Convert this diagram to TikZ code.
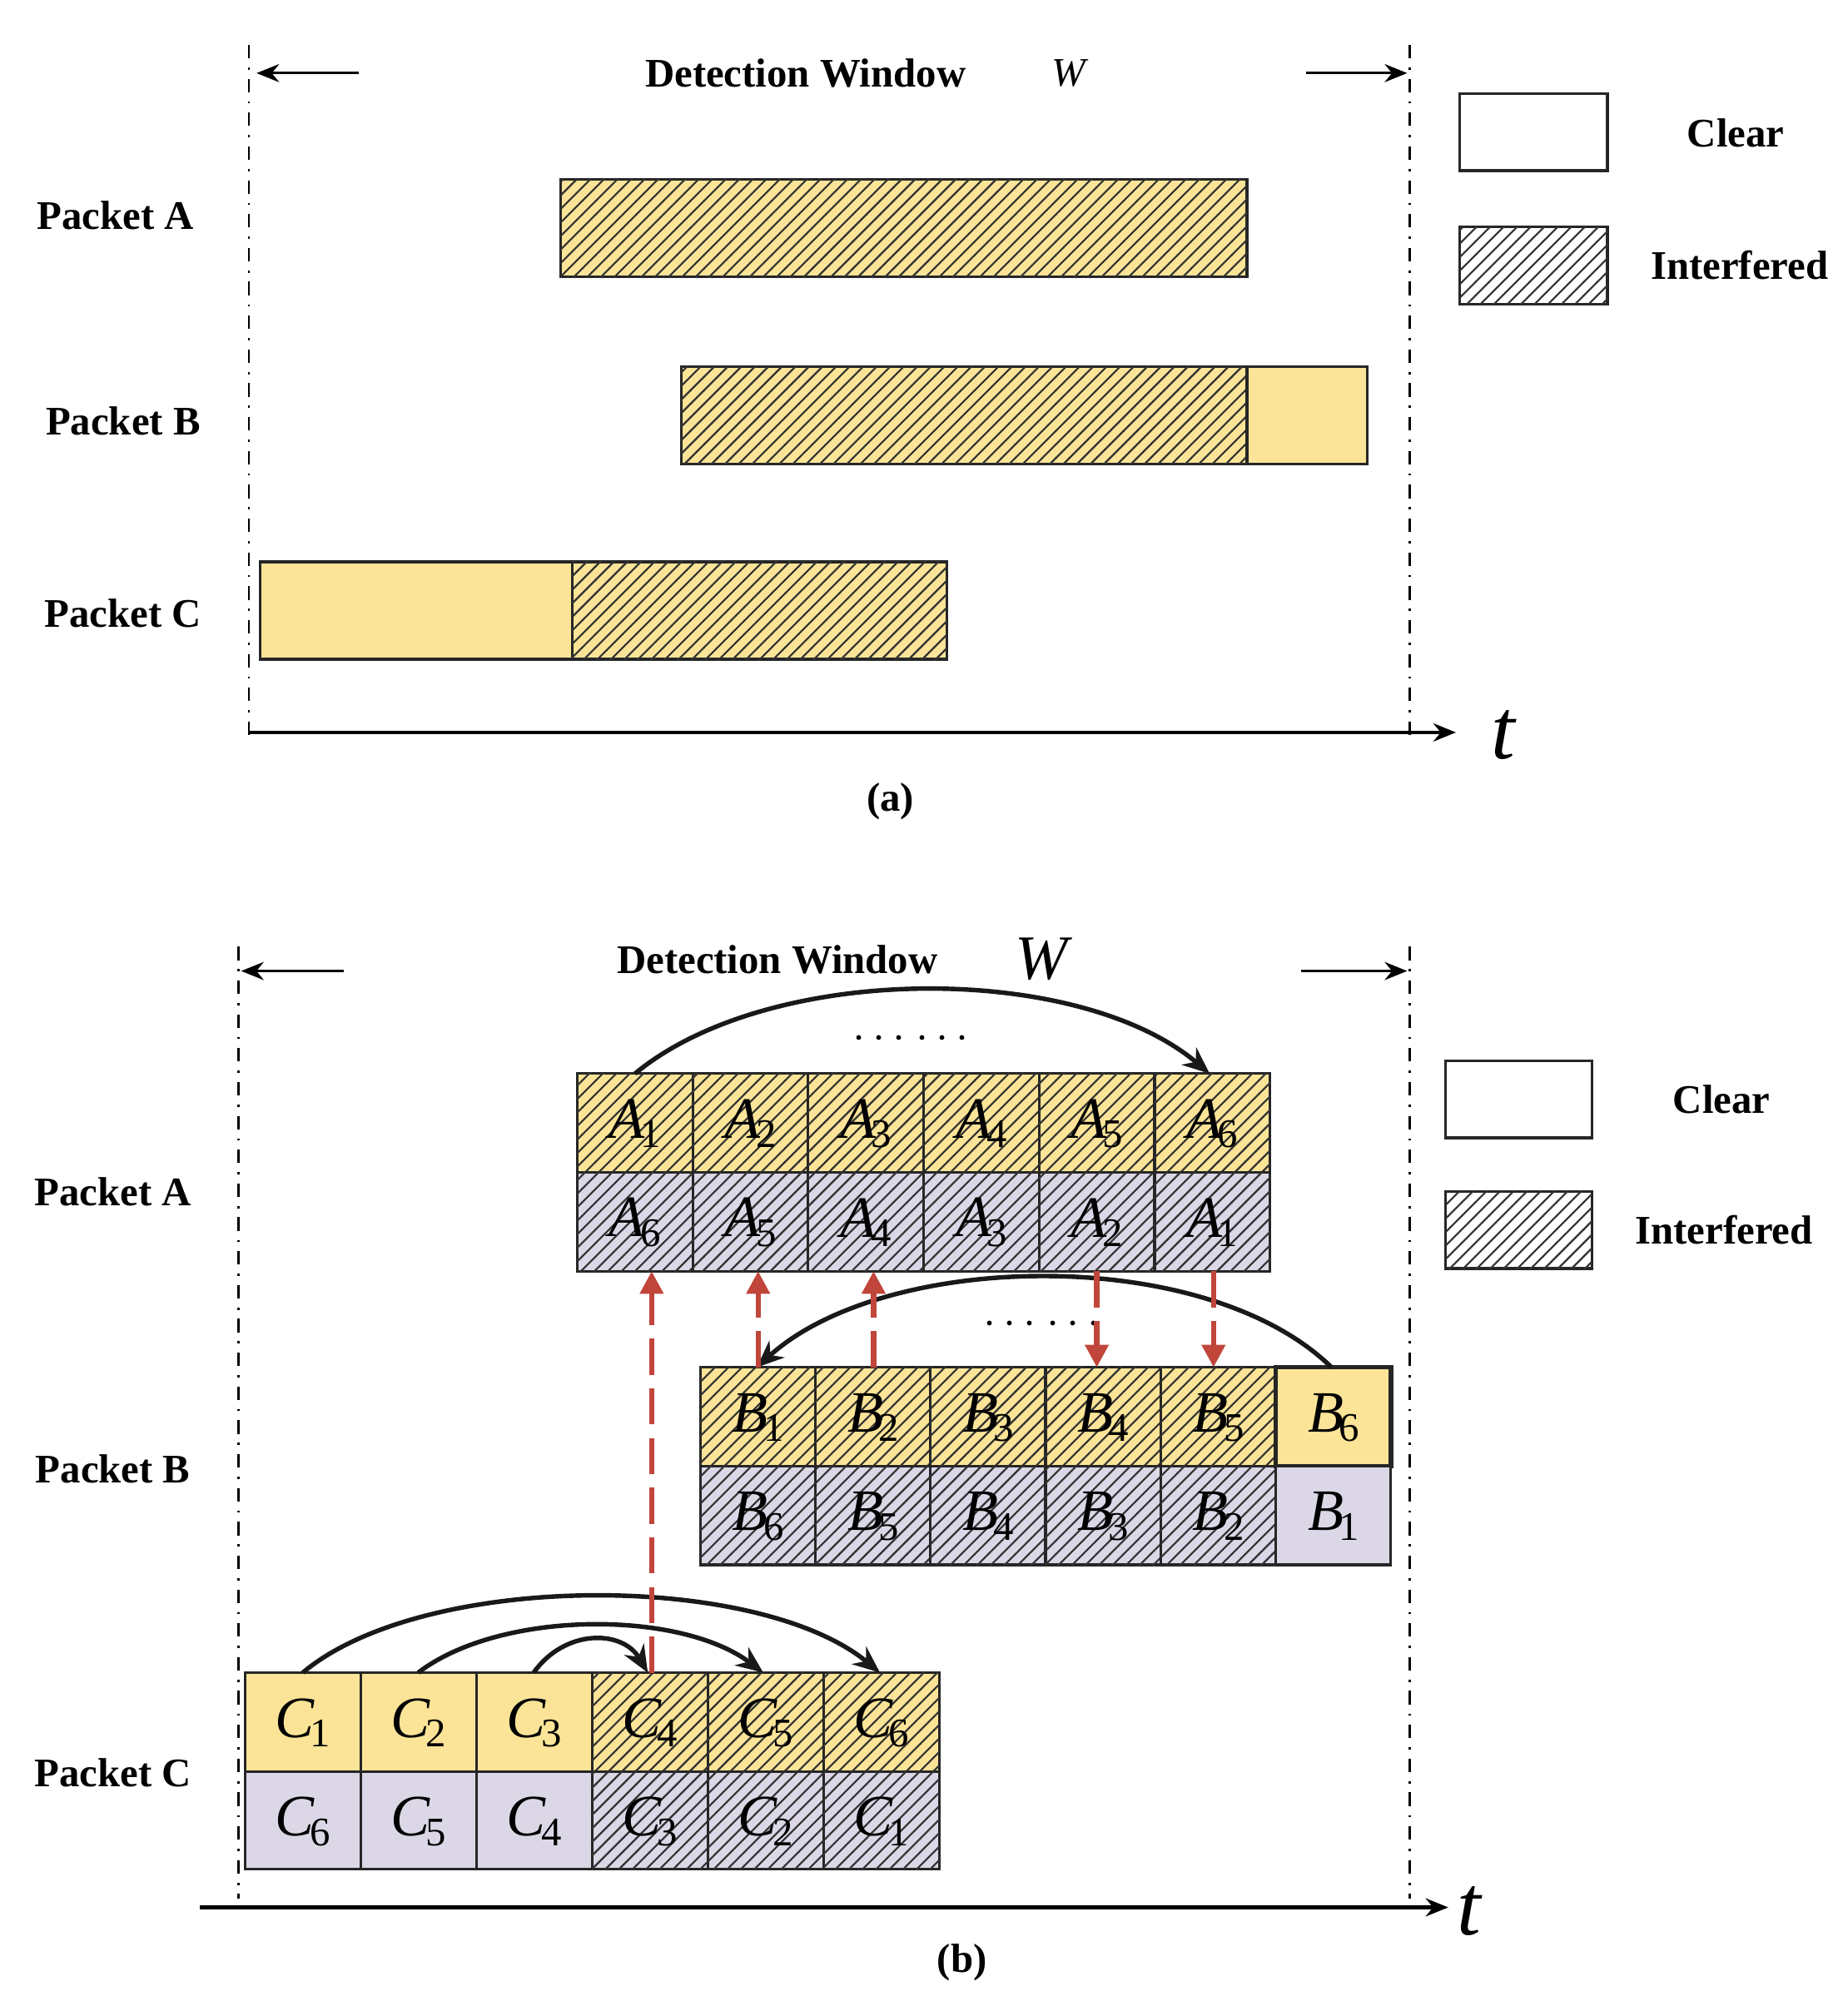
\documentclass[tikz,border=0pt]{standalone}
\usepackage{fontspec}
\setmainfont{Liberation Serif}
\usetikzlibrary{patterns,arrows.meta}
\definecolor{yel}{HTML}{FBE497}
\definecolor{lav}{HTML}{DCD7E6}
\definecolor{red}{HTML}{C0453A}
\newcommand{\cl}[2]{{\itshape #1}\kern-0.08em\raisebox{-0.35ex}{\fontsize{9}{10}\selectfont #2}}
\begin{document}
\begin{tikzpicture}[x=0.01cm,y=-0.01cm,
  lab/.style={font=\fontsize{9}{11}\bfseries\selectfont},
  cell/.style={draw=black!85,line width=0.6pt,font=\fontsize{13}{15}\selectfont},
  hat/.style={postaction={pattern=north east lines,pattern color=black!80}},
  win/.style={line width=0.5pt,dash dot},
  ar/.style={-{Stealth[length=5pt,width=4pt]},line width=0.6pt},
  cur/.style={-{Stealth[length=6pt,width=5pt]},line width=1pt,black!90},
  rd/.style={-{Triangle[length=5pt,width=5pt]},line width=1.2pt,red,dash pattern=on 8pt off 3pt}]
\useasboundingbox (0,0) rectangle (1440,1560);
% ---------- (a)
\draw[win] (194,35) -- (194,575);
\draw[win] (1099,35) -- (1099,575);
\coordinate (la1) at (280,57); \coordinate (la2) at (200,57);
\coordinate (ra1) at (1018,57); \coordinate (ra2) at (1097,57);
\draw[ar] (la1) -- (la2); \draw[ar] (ra1) -- (ra2);
\node[lab] (dwa) at (628,57) {Detection Window};
\node[font=\fontsize{9}{11}\itshape\selectfont] (wa) at (833,57) {W};
\node[lab] (pa) at (90,168) {Packet A};
\node[lab] (pb) at (96,328) {Packet B};
\node[lab] (pc) at (96,478) {Packet C};
\draw[cell,fill=yel,hat] (437,140) rectangle (972,216);
\draw[cell,fill=yel,hat] (531,286) rectangle (972,362);
\draw[cell,fill=yel] (972,286) rectangle (1066,362);
\draw[cell,fill=yel] (203,438) rectangle (446,514);
\draw[cell,fill=yel,hat] (446,438) rectangle (738,514);
\coordinate (xa0) at (194,571); \coordinate (xa1) at (1135,571);
\draw[ar,line width=0.8pt] (xa0) -- (xa1);
\node[font=\fontsize{19}{22}\itshape\selectfont] (ta) at (1172,573) {t};
\node[lab] (capa) at (694,625) {(a)};
\draw[cell,fill=white] (1138,73) rectangle (1253,133);
\node[lab] (ca) at (1353,104) {Clear};
\draw[cell,fill=white,hat] (1138,177) rectangle (1253,237);
\node[lab] (ia) at (1356,207) {Interfered};
% ---------- (b)
\draw[win] (186,738) -- (186,1480);
\draw[win] (1099,738) -- (1099,1480);
\coordinate (lb1) at (268,757); \coordinate (lb2) at (188,757);
\coordinate (rb1) at (1014,757); \coordinate (rb2) at (1097,757);
\draw[ar] (lb1) -- (lb2); \draw[ar] (rb1) -- (rb2);
\node[lab] (dwb) at (606,748) {Detection Window};
\node[font=\fontsize{14}{16}\itshape\selectfont] (wb) at (812,748) {W};
\node[lab] (pab) at (88,929) {Packet A};
\node[lab] (pbb) at (88,1145) {Packet B};
\node[lab] (pcb) at (88,1382) {Packet C};
\draw[cell,fill=white] (1127,827) rectangle (1241,887);
\node[lab] (cb) at (1342,857) {Clear};
\draw[cell,fill=white,hat] (1127,929) rectangle (1241,989);
\node[lab] (ib) at (1344,959) {Interfered};
% A cells
\foreach \i in {1,...,6}{
  \pgfmathsetmacro\xl{450+(\i-1)*90}
  \pgfmathtruncatemacro\j{7-\i}
  \draw[cell,fill=yel,hat] (\xl,837) rectangle ++(90,77);
  \node[font=\fontsize{13}{15}\selectfont] (A\i) at (\xl+45,876) {\cl{A}{\i}};
  \draw[cell,fill=lav,hat] (\xl,914) rectangle ++(90,77);
  \node[font=\fontsize{13}{15}\selectfont] (AA\i) at (\xl+45,953) {\cl{A}{\j}};
}
% B cells
\foreach \i in {1,...,6}{
  \pgfmathsetmacro\xl{546+(\i-1)*89.7}
  \pgfmathtruncatemacro\j{7-\i}
  \ifnum\i<6
    \draw[cell,fill=yel,hat] (\xl,1066) rectangle ++(89.7,77);
    \draw[cell,fill=lav,hat] (\xl,1143) rectangle ++(89.7,77);
  \else
    \draw[cell,fill=yel,line width=1pt] (\xl,1066) rectangle ++(89.7,77);
    \draw[cell,fill=lav] (\xl,1143) rectangle ++(89.7,77);
  \fi
  \node[font=\fontsize{13}{15}\selectfont] (B\i) at (\xl+45,1105) {\cl{B}{\i}};
  \node[font=\fontsize{13}{15}\selectfont] (BB\i) at (\xl+45,1182) {\cl{B}{\j}};
}
% C cells
\foreach \i in {1,...,6}{
  \pgfmathsetmacro\xl{191+(\i-1)*90.2}
  \pgfmathtruncatemacro\j{7-\i}
  \ifnum\i<4
    \draw[cell,fill=yel] (\xl,1304) rectangle ++(90.2,77);
    \draw[cell,fill=lav] (\xl,1381) rectangle ++(90.2,76);
  \else
    \draw[cell,fill=yel,hat] (\xl,1304) rectangle ++(90.2,77);
    \draw[cell,fill=lav,hat] (\xl,1381) rectangle ++(90.2,76);
  \fi
  \node[font=\fontsize{13}{15}\selectfont] (C\i) at (\xl+45,1343) {\cl{C}{\i}};
  \node[font=\fontsize{13}{15}\selectfont] (CC\i) at (\xl+45,1420) {\cl{C}{\j}};
}
% curves
\coordinate (a0) at (495,837); \coordinate (a1) at (943,837);
\draw[cur] (a0) .. controls (600,750) and (840,750) .. (a1);
\node[font=\fontsize{10}{12}\bfseries\selectfont] (da) at (710,810) {\textbf{$\cdots$ $\cdots$}};
\coordinate (b0) at (1038,1066); \coordinate (b1) at (590,1066);
\draw[cur] (b0) .. controls (940,970) and (690,975) .. (b1);
\node[font=\fontsize{10}{12}\bfseries\selectfont] (db) at (812,1033) {$\cdots$ $\cdots$};
\coordinate (c10) at (236,1304); \coordinate (c11) at (686,1304);
\draw[cur] (c10) .. controls (330,1225) and (590,1225) .. (c11);
\coordinate (c20) at (326,1304); \coordinate (c21) at (595,1304);
\draw[cur] (c20) .. controls (390,1255) and (530,1255) .. (c21);
\coordinate (c30) at (416,1304); \coordinate (c31) at (505,1304);
\draw[cur] (c30) .. controls (440,1270) and (485,1270) .. (c31);
% red dashed
\coordinate (r1a) at (508,1304); \coordinate (r1b) at (508,991);
\coordinate (r2a) at (591,1066); \coordinate (r2b) at (591,991);
\coordinate (r3a) at (681,1066); \coordinate (r3b) at (681,991);
\coordinate (r4a) at (855,991); \coordinate (r4b) at (855,1066);
\coordinate (r5a) at (946,991); \coordinate (r5b) at (946,1066);
\draw[rd] (r1a) -- (r1b);
\draw[rd] (r2a) -- (r2b);
\draw[rd] (r3a) -- (r3b);
\draw[rd] (r4a) -- (r4b);
\draw[rd] (r5a) -- (r5b);
% axis
\coordinate (xb0) at (156,1487); \coordinate (xb1) at (1129,1487);
\draw[ar,line width=0.8pt] (xb0) -- (xb1);
\node[font=\fontsize{19}{22}\itshape\selectfont] (tb) at (1145,1490) {t};
\node[lab] (capb) at (750,1530) {(b)};
\end{tikzpicture}
\end{document}
